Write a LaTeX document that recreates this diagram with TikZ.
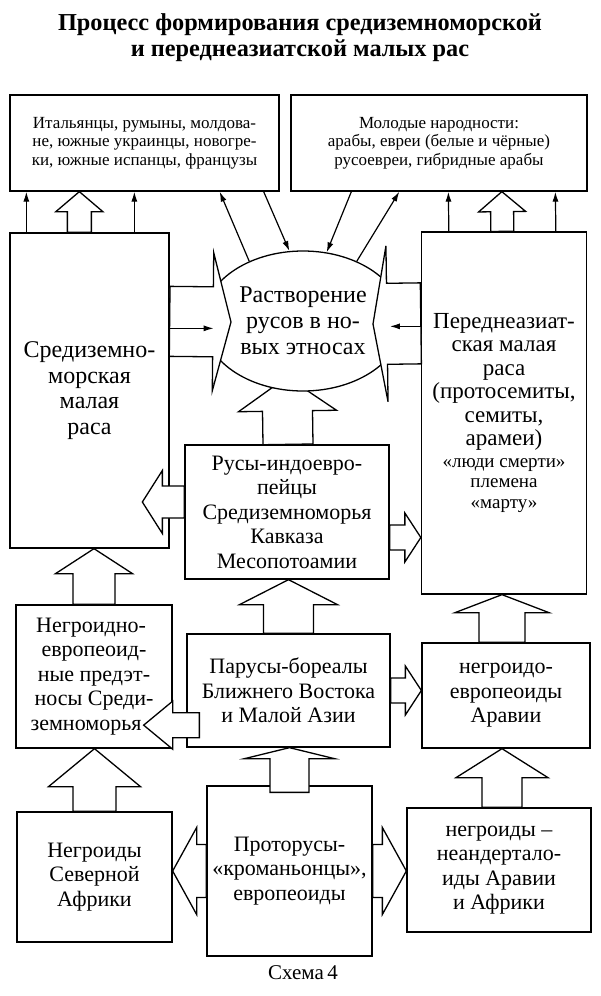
\documentclass[tikz,border=0pt]{standalone}
\usepackage{fontspec}
\setmainfont{Liberation Serif}
\usepackage{tikz}
\usetikzlibrary{shapes.geometric,arrows.meta,calc}
\newcommand{\bigtxt}{\fontsize{22}{24.5}\selectfont}
\newcommand{\largetxt}{\fontsize{24}{25.5}\selectfont}
\newcommand{\toptxt}{\fontsize{17}{18.5}\selectfont}
\newcommand{\smalltxt}{\fontsize{19}{21}\selectfont}
\tikzset{
  box/.style={ draw, line width=1.3pt, fill=white, align=center, inner sep=2pt, font=\bigtxt }
}
\tikzset{
  topbox/.style={ box, font=\toptxt }
}
\tikzset{
  oval/.style={ draw, ellipse, line width=1.3pt, fill=white, align=center, inner sep=0pt,
    minimum width=200, minimum height=140, font=\fontsize{24}{26}\selectfont }
}
\tikzset{
  fatarr/.style={ draw, fill=white, line width=1.3pt, line join=miter }
}
\tikzset{
  thinarr/.style={ line width=1.2pt, -{Latex[length=10pt, width=6pt]} }
}
% hollow block arrow: start, tip, shaft half width, head half width, head length
\newcommand{\fatarrow}[5]{%
  \coordinate (fa-s) at (#1);
  \coordinate (fa-t) at (#2);
  \coordinate (fa-h) at ($(fa-t)!#5pt!(fa-s)$);
  \filldraw[fatarr] ($(fa-s)!#3pt!90:(fa-t)$) -- ($(fa-h)!#3pt!90:(fa-t)$)
    -- ($(fa-h)!#4pt!90:(fa-t)$) -- (fa-t) -- ($(fa-h)!#4pt!-90:(fa-t)$)
    -- ($(fa-h)!#3pt!-90:(fa-t)$) -- ($(fa-s)!#3pt!-90:(fa-t)$) -- cycle;
}

\begin{document}
\begin{tikzpicture}[x=1pt, y=-1pt]
  \fill[white] (0,0) rectangle (600,996);
  \useasboundingbox (0,0) rectangle (600,996);

  \node[font=\fontsize{24.3}{26}\selectfont\bfseries, align=center] (title) at (300,38)
    {Процесс формирования средиземноморской\\и переднеазиатской малых рас};

  \node[topbox, minimum width=269, minimum height=96] (ital) at (144.5,143)
    {Итальянцы, румыны, молдова-\\не, южные украинцы, новогре-\\ки, южные испанцы, французы};
  \node[topbox, minimum width=296, minimum height=96] (young) at (439,143)
    {Молодые народности:\\арабы, евреи (белые и чёрные)\\русоевреи, гибридные арабы};

  \node[box, font=\largetxt, minimum width=159, minimum height=315] (med) at (89.5,390.5)
    {Средиземно-\\морская\\малая\\раса};
  \node[box, font=\fontsize{23}{23.5}\selectfont, minimum width=165, minimum height=362] (pa) at (504,413)
    {Переднеазиат-\\ская малая\\раса\\(протосемиты,\\семиты,\\арамеи)\\[-2pt]\smalltxt «люди смерти»\\[-3pt]\smalltxt племена\\[-3pt]\smalltxt «марту»};
  \node[box, minimum width=204, minimum height=134] (rus) at (287,512)
    {Русы-индоевро-\\пейцы\\Средиземноморья\\Кавказа\\Месопотоамии};
  \node[box, minimum width=156, minimum height=143] (neg) at (94,676.5)
    {Негроидно-\hspace*{6pt}\\европеоид-\hspace*{6pt}\\ные предэт-\hspace*{6pt}\\носы Среди-\hspace*{6pt}\\земноморья\hspace*{16pt}};
  \node[box, minimum width=203, minimum height=113] (par) at (288.5,690.5)
    {Парусы-бореалы\\Ближнего Востока\\и Малой Азии};
  \node[box, minimum width=168, minimum height=105] (nar) at (506,695.5)
    {негроидо-\\европеоиды\\Аравии};
  \node[box, minimum width=155, minimum height=130] (nsa) at (94.5,877)
    {Негроиды\\Северной\\Африки};
  \node[box, minimum width=165, minimum height=170] (proto) at (289.5,871)
    {Проторусы-\\«кроманьонцы»,\\европеоиды};
  \node[box, minimum width=184, minimum height=124] (nea) at (499,870)
    {негроиды –\\неандертало-\\иды Аравии\\и Африки};

  \fatarrow{$(med.north west)+(70,0)$}{$(ital.south west)+(70,0)$}{12}{23.5}{20}
  \fatarrow{$(pa.north west)+(81.5,0)$}{$(young.south west)+(211.5,0)$}{11.5}{23.5}{20}
  \fatarrow{$(rus.north)+(1,0)$}{rus.north |- 0,377}{25}{49}{34}
  \fatarrow{par.north}{rus.south -| fa-s}{25}{49}{25}
  \fatarrow{$(rus.west)+(0,-10)$}{$(rus.west)+(-42,-10)$}{16}{31.5}{20}
  \fatarrow{$(rus.east)+(0,25.5)$}{pa.west |- fa-s}{12.5}{24.5}{16}
  \fatarrow{$(par.south west)+(13,-22.5)$}{$(neg.south east)+(-29,-23.5)$}{12.5}{24}{29}
  \fatarrow{par.east}{nar.west |- fa-s}{12.5}{24.5}{16}
  \fatarrow{neg.north}{med.south -| fa-s}{21}{38.5}{25}
  \fatarrow{$(nar.north)+(-4,0)$}{pa.south -| fa-s}{23}{47}{18}
  \fatarrow{$(proto.north)+(0,7)$}{par.south -| fa-s}{19.5}{45}{11}
  \fatarrow{nsa.north}{neg.south -| fa-s}{21.5}{46}{38}
  \fatarrow{$(nea.north)+(3,0)$}{nar.south -| fa-s}{20}{46}{29}
  \fatarrow{proto.west}{nsa.east |- fa-s}{26.5}{43.5}{24}
  \fatarrow{proto.east}{nea.west |- fa-s}{26.5}{43.5}{24}

  \node[oval] (circ) at (303,321) {Растворение\\русов в но-\\вых этносах};

  \fatarrow{$(med.north east)+(0,89)$}{$(circ.center)+(-72,1)$}{35}{69}{18}
  \fatarrow{$(pa.north west)+(0,92)$}{$(circ.center)+(70,3)$}{40.5}{78}{14}

  \draw[thinarr] ($(med.north west)+(17,0)$) -- ($(ital.south west)+(17,0)$);
  \draw[thinarr] ($(med.north west)+(125,0)$) -- ($(ital.south west)+(125,0)$);
  \draw[thinarr] ($(pa.north west)+(28,0)$) -- ($(young.south west)+(158,0)$);
  \draw[thinarr] ($(pa.north west)+(135,0)$) -- ($(young.south west)+(265,0)$);
  \draw[thinarr] (circ.132) -- ($(ital.south east)+(-60,0)$);
  \draw[thinarr] ($(ital.south east)+(-16,0)$) -- (circ.101);
  \draw[thinarr] ($(young.south west)+(61,0)$) -- (circ.71);
  \draw[thinarr] (circ.48) -- ($(young.south west)+(109,0)$);
  \draw[thinarr] ($(med.north east)+(0,96)$) -- ($(med.north east)+(44,96)$);
  \draw[thinarr] ($(pa.north west)+(0,95)$) -- ($(pa.north west)+(-31,95)$);

  \node[font=\fontsize{21}{24}\selectfont] (caption) at (303,973) {Схема\,4};
\end{tikzpicture}
\end{document}
